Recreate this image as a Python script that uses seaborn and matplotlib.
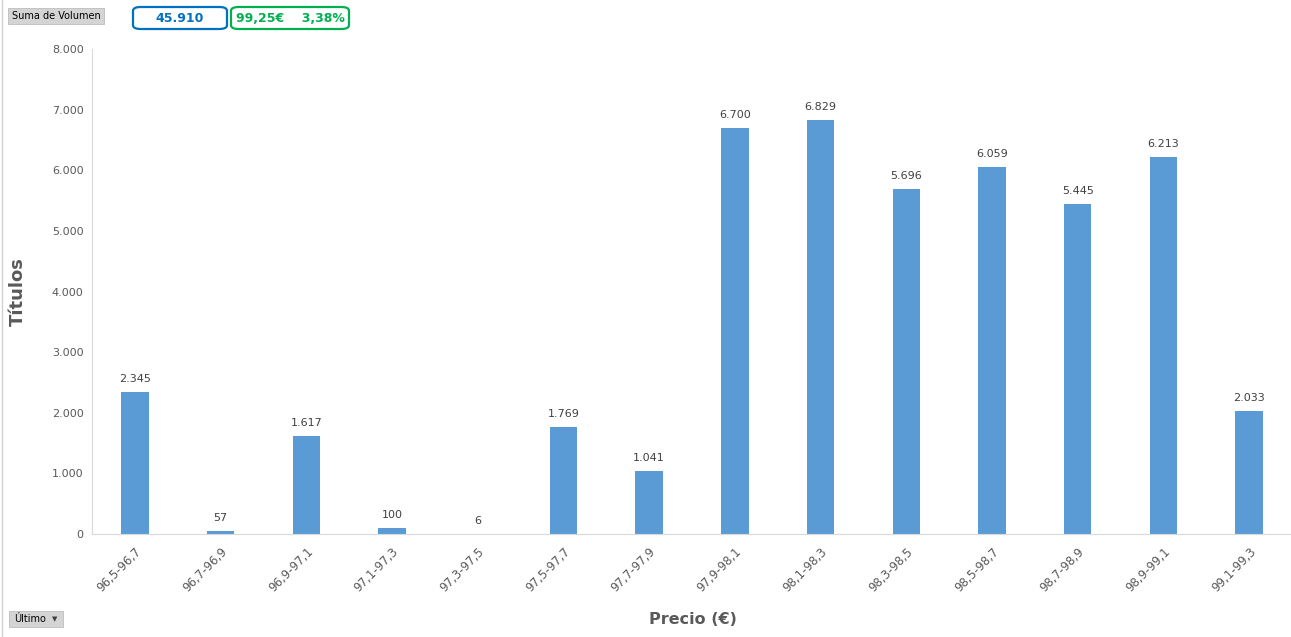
import matplotlib
matplotlib.use("Agg")
import matplotlib.pyplot as plt
import seaborn as sns
import pandas as pd
from matplotlib.patches import FancyBboxPatch, Rectangle
from matplotlib.lines import Line2D

categories = ["96,5-96,7", "96,7-96,9", "96,9-97,1", "97,1-97,3", "97,3-97,5",
              "97,5-97,7", "97,7-97,9", "97,9-98,1", "98,1-98,3", "98,3-98,5",
              "98,5-98,7", "98,7-98,9", "98,9-99,1", "99,1-99,3"]
values = [2345, 57, 1617, 100, 6, 1769, 1041, 6700, 6829, 5696, 6059, 5445, 6213, 2033]
yticks = [0, 1000, 2000, 3000, 4000, 5000, 6000, 7000, 8000]

def fmt(v):
    return f"{v:,}".replace(",", ".")

sns.set_theme(style="white")
plt.rcParams['font.family'] = ['DejaVu Sans']

W, H = 1291, 637
fig = plt.figure(figsize=(W / 100, H / 100), dpi=100)
ax = fig.add_axes([92 / W, 1 - 534 / H, (1292 - 92) / W, (534 - 49) / H])

df = pd.DataFrame({"cat": categories, "val": values})
sns.barplot(data=df, x="cat", y="val", color="#5B9BD5", saturation=1, width=0.32,
            linewidth=0, ax=ax)

ax.set_ylim(0, 8000)
ax.set_xlim(-0.5, len(categories) - 0.5)
ax.set_yticks(yticks)
ax.set_yticklabels([fmt(t) for t in yticks], fontsize=8, color="#595959")
ax.set_xticks(range(len(categories)))
ax.set_xticklabels(categories, rotation=45, ha="right", rotation_mode="anchor",
                   fontsize=8.5, color="#595959")
ax.tick_params(axis="both", length=0, pad=6)
ax.tick_params(axis="x", pad=8)

for i, v in enumerate(values):
    ax.text(i, v + 130, fmt(v), ha="center", va="bottom", fontsize=8, color="#404040")

ax.set_xlabel("Precio (€)", fontsize=11.5, fontweight="bold", color="#595959")
ax.set_ylabel("Títulos", fontsize=13, fontweight="bold", color="#595959")
ax.xaxis.set_label_coords((693 - 92) / (1292 - 92), -(612 - 534) / (534 - 49))
ax.yaxis.set_label_coords(-(92 - 27) / (1292 - 92), (534 - 292) / (534 - 49))

for s in ["top", "right"]:
    ax.spines[s].set_visible(False)
ax.spines["left"].set_color("#D9D9D9")
ax.spines["bottom"].set_color("#D9D9D9")
ax.spines["left"].set_linewidth(0.8)
ax.spines["bottom"].set_linewidth(0.8)
ax.grid(False)

# Figure-level decorations (pivot chart buttons)
def px(x, y):
    return x / W, 1 - y / H

fig.add_artist(Line2D([2 / W, 2 / W], [0, 1], color="#D0D0D0", lw=1))

x0, y0 = px(8, 24)
fig.add_artist(Rectangle((x0, y0), 96 / W, 16 / H, facecolor="#D4D4D4",
                         edgecolor="#BDBDBD", lw=0.6))
fig.text(56 / W, 1 - 16 / H, "Suma de Volumen", fontsize=7, color="#000000",
         ha="center", va="center")

x0, y0 = px(9, 627)
fig.add_artist(Rectangle((x0, y0), 54 / W, 16 / H, facecolor="#D4D4D4",
                         edgecolor="#BDBDBD", lw=0.6))
fig.text(14 / W, 1 - 619 / H, "Último", fontsize=7, color="#000000",
         ha="left", va="center")
fig.text(55 / W, 1 - 619 / H, "▼", fontsize=5, color="#404040",
         ha="center", va="center")

x0, y0 = px(133, 29)
fig.add_artist(FancyBboxPatch((x0, y0), 94 / W, 22 / H,
                              boxstyle="round,pad=0,rounding_size=0.006",
                              facecolor="white", edgecolor="#0070C0", lw=1.6))
fig.text(180 / W, 1 - 18 / H, "45.910", fontsize=9, fontweight="bold",
         color="#0070C0", ha="center", va="center")

x0, y0 = px(231, 29)
fig.add_artist(FancyBboxPatch((x0, y0), 118 / W, 22 / H,
                              boxstyle="round,pad=0,rounding_size=0.006",
                              facecolor="white", edgecolor="#00B050", lw=1.6))
fig.text(290 / W, 1 - 18 / H, "99,25€    3,38%", fontsize=9, fontweight="bold",
         color="#00B050", ha="center", va="center")

fig.savefig("out.png", dpi=100)
